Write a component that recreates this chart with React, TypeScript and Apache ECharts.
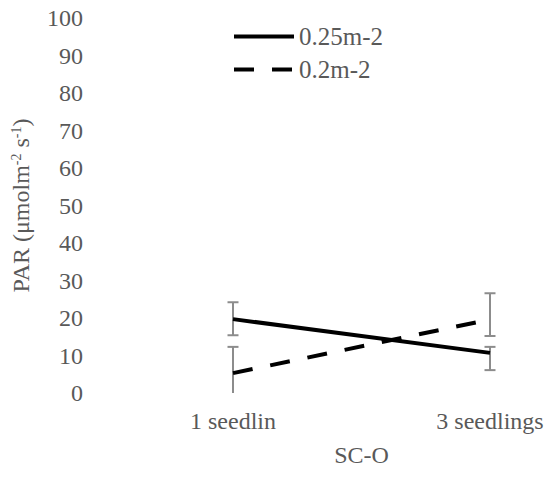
import React, { useEffect, useRef } from "react";
import * as echarts from "echarts";

const categories = ["1 seedlin", "3 seedlings"];
const seriesNames = ["0.25m-2", "0.2m-2"];
const density025 = [19.7, 10.7];
const density02 = [5.3, 19.6];
const err025Low = [15.4, 6.1];
const err025High = [24.2, 12.3];
const err02Low = [-1.7, 15.2];
const err02High = [12.3, 26.6];
const yTicks = { min: 0, max: 100, interval: 10 };

const FONT = "Liberation Serif";
const TEXT = "#595959";
const DASH = [20, 18];
const FS = 24;

export default function App() {
  const ref = useRef<HTMLDivElement>(null);
  useEffect(() => {
    if (!ref.current) return;
    const chart = echarts.init(ref.current, undefined, { renderer: "svg" });
    const errData = (lo: number[], hi: number[]) =>
      categories.map((_, i) => [i, lo[i], hi[i]]);
    const renderErr = (params: any, api: any) => {
      const idx = api.value(0);
      const lo = api.value(1);
      const hi = api.value(2);
      const loClamped = Math.max(lo, yTicks.min);
      const p1 = api.coord([idx, loClamped]);
      const p2 = api.coord([idx, hi]);
      const half = 5.5;
      const st = { stroke: "#8c8c8c", lineWidth: 2 };
      const children: any[] = [
        { type: "line", shape: { x1: p1[0], y1: p1[1], x2: p2[0], y2: p2[1] }, style: st },
        { type: "line", shape: { x1: p2[0] - half, y1: p2[1], x2: p2[0] + half, y2: p2[1] }, style: st },
      ];
      if (lo >= yTicks.min) {
        children.push({ type: "line", shape: { x1: p1[0] - half, y1: p1[1], x2: p1[0] + half, y2: p1[1] }, style: st });
      }
      return { type: "group", children };
    };
    chart.setOption({
      animation: false,
      textStyle: { fontFamily: FONT, color: TEXT },
      grid: { left: 233, right: 65, top: 18, bottom: 84 },
      legend: {
        orient: "vertical",
        left: 227,
        top: 19,
        itemWidth: 60,
        itemHeight: 24,
        itemGap: 8,
        textStyle: { fontFamily: FONT, fontSize: 25, color: TEXT },
        data: [
          { name: seriesNames[0], itemStyle: { opacity: 0 }, lineStyle: { width: 4, color: "#000" } },
          { name: seriesNames[1], itemStyle: { opacity: 0 }, lineStyle: { width: 4, color: "#000", type: DASH } },
        ],
      },
      xAxis: {
        type: "category",
        data: categories,
        boundaryGap: false,
        axisLine: { show: false },
        axisTick: { show: false },
        axisLabel: { fontFamily: FONT, fontSize: FS, color: TEXT, margin: 16 },
        name: "SC-O",
        nameLocation: "middle",
        nameGap: 50,
        nameTextStyle: { fontFamily: FONT, fontSize: FS, color: TEXT },
      },
      yAxis: {
        type: "value",
        min: yTicks.min,
        max: yTicks.max,
        interval: yTicks.interval,
        offset: 142,
        splitLine: { show: false },
        axisLine: { show: false },
        axisTick: { show: false },
        axisLabel: { fontFamily: FONT, fontSize: FS, color: TEXT, margin: 8 },
        name: "PAR (μmolm{sup|-2} s{sup|-1})",
        nameLocation: "middle",
        nameGap: 58,
        nameTextStyle: {
          fontFamily: FONT,
          fontSize: FS,
          color: TEXT,
          rich: {
            sup: { fontFamily: FONT, fontSize: 14, color: TEXT, verticalAlign: "top", lineHeight: 14 },
          },
        },
      },
      series: [
        {
          type: "custom",
          renderItem: renderErr,
          data: errData(err025Low, err025High),
          encode: { x: 0, y: [1, 2] },
          clip: false,
          z: 1,
          silent: true,
        },
        {
          type: "custom",
          renderItem: renderErr,
          data: errData(err02Low, err02High),
          encode: { x: 0, y: [1, 2] },
          clip: false,
          z: 1,
          silent: true,
        },
        {
          name: seriesNames[0],
          type: "line",
          data: density025,
          symbol: "none",
          z: 3,
          lineStyle: { color: "#000", width: 4 },
          itemStyle: { color: "#000" },
        },
        {
          name: seriesNames[1],
          type: "line",
          data: density02,
          symbol: "none",
          z: 3,
          lineStyle: { color: "#000", width: 4, type: DASH },
          itemStyle: { color: "#000" },
        },
      ],
    });
    return () => chart.dispose();
  }, []);
  return <div ref={ref} style={{ width: 555, height: 477, margin: -8 }} />;
}
